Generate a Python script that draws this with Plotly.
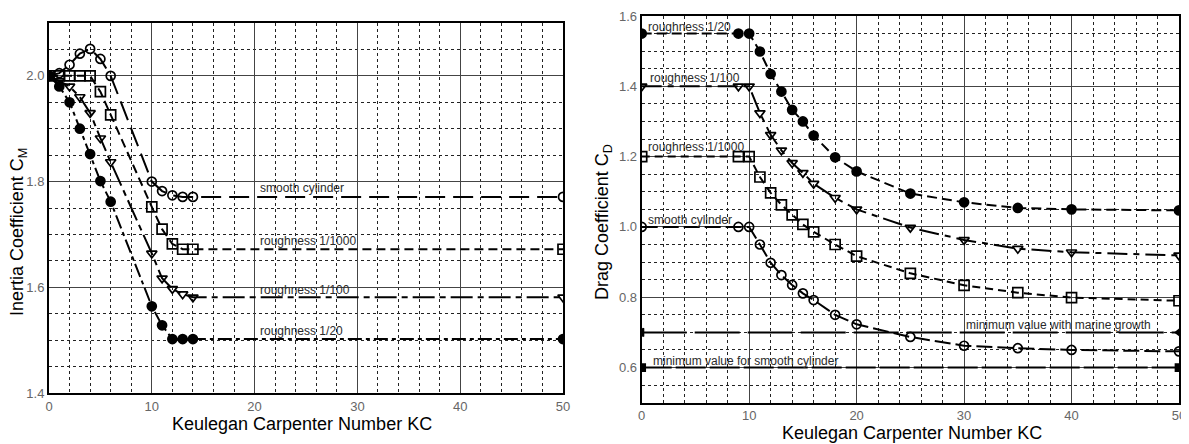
import plotly.graph_objects as go

# ---------------- Data: Inertia coefficient C_M (left) ----------------
kc_cm = [0, 1, 2, 3, 4, 5, 6, 10, 11, 12, 13, 14, 50]
cm_smooth = [2.0, 2.005, 2.021, 2.042, 2.051, 2.032, 2.0, 1.80, 1.782, 1.774, 1.771, 1.771, 1.771]
cm_r1000 = [2.0, 2.0, 2.0, 2.0, 2.0, 1.97, 1.926, 1.752, 1.71, 1.682, 1.672, 1.672, 1.672]
cm_r100 = [2.0, 1.99, 1.98, 1.96, 1.93, 1.882, 1.837, 1.664, 1.617, 1.597, 1.587, 1.581, 1.581]
cm_r20 = [2.0, 1.98, 1.95, 1.90, 1.852, 1.801, 1.762, 1.564, 1.528, 1.502, 1.502, 1.502, 1.502]

cm_labels = ["smooth cylinder", "roughness 1/1000", "roughness 1/100", "roughness 1/20"]
cm_label_y = [1.787, 1.687, 1.594, 1.518]
cm_label_x = 20.3

# ---------------- Data: Drag coefficient C_D (right) ----------------
kc_cd = [0, 9, 10, 11, 12, 13, 14, 15, 16, 18, 20, 25, 30, 35, 40, 50]
cd_r20 = [1.55, 1.55, 1.55, 1.499, 1.435, 1.385, 1.333, 1.30, 1.26, 1.198, 1.158, 1.095, 1.070, 1.054, 1.050, 1.047]
cd_r100 = [1.40, 1.40, 1.40, 1.324, 1.262, 1.218, 1.182, 1.154, 1.123, 1.083, 1.050, 0.998, 0.963, 0.938, 0.928, 0.919]
cd_r1000 = [1.20, 1.20, 1.20, 1.142, 1.097, 1.063, 1.034, 1.007, 0.986, 0.950, 0.917, 0.868, 0.834, 0.813, 0.799, 0.790]
cd_smooth = [1.00, 1.00, 1.00, 0.950, 0.898, 0.863, 0.835, 0.811, 0.792, 0.750, 0.723, 0.687, 0.662, 0.655, 0.650, 0.646]

kc_limits = [0, 50]
cd_min_marine = [0.70, 0.70]
cd_min_smooth = [0.60, 0.60]

cd_labels = ["roughness 1/20", "roughness 1/100", "roughness 1/1000", "smooth cylinder",
             "minimum value for smooth cylinder", "minimum value with marine growth"]
cd_label_x = [0.4, 0.6, 0.4, 0.4, 0.9, 30.0]
cd_label_y = [1.570, 1.423, 1.226, 1.021, 0.619, 0.721]

x_ticks = [0, 10, 20, 30, 40, 50]

# ---------------- Layout helpers ----------------
# The page body adds an 8px offset, so reference pixel p maps to figure pixel p - 8.
W, H = 1181, 436
OFF = 8
def px_x(p):
    return (p - OFF) / W
def px_y(p):
    return (H - (p - OFF)) / H

FONT = "Arial, Liberation Sans, sans-serif"
BLACK = "#000000"

fig = go.Figure()

def add_series(x, y, xa, ya, symbol, dash, size=9):
    fig.add_trace(go.Scatter(
        x=x, y=y, xaxis=xa, yaxis=ya, mode="lines+markers",
        line=dict(color=BLACK, width=2, dash=dash),
        marker=dict(symbol=symbol, size=size, color=BLACK,
                    line=dict(color=BLACK, width=1.7)),
        showlegend=False, hoverinfo="x+y"))

# left
add_series(kc_cm, cm_smooth, "x", "y", "circle-open", "20px,8px")
add_series(kc_cm, cm_r1000, "x", "y", "square-open", "9px,5px", 10)
add_series(kc_cm, cm_r100, "x", "y", "triangle-down-open", "22px,5px,6px,5px")
add_series(kc_cm, cm_r20, "x", "y", "circle", "14px,4px,4px,4px")

# right
add_series(kc_cd, cd_r20, "x2", "y2", "circle", "10px,5px")
add_series(kc_cd, cd_r100, "x2", "y2", "triangle-down-open", "20px,6px,6px,6px")
add_series(kc_cd, cd_r1000, "x2", "y2", "square-open", "8px,5px", 10)
add_series(kc_cd, cd_smooth, "x2", "y2", "circle-open", "16px,5px")
add_series(kc_limits, cd_min_marine, "x2", "y2", "triangle-left", "45px,8px", 7)
add_series(kc_limits, cd_min_smooth, "x2", "y2", "square", "30px,4px", 7)

def axis_common(rng, dtick, minor_dtick, tick0, minor_tick0, domain, anchor, fmt=None, tickvals=None):
    d = dict(
        range=rng, domain=domain, anchor=anchor, automargin=False,
        showline=True, linecolor=BLACK, linewidth=2, mirror=True,
        showgrid=True, gridcolor="#444444", gridwidth=1,
        zeroline=False, ticks="",
        tickfont=dict(family=FONT, size=13, color="#666666"),
        minor=dict(dtick=minor_dtick, tick0=minor_tick0, showgrid=True,
                   gridcolor="#222222", gridwidth=1, griddash="3px,3px", ticks=""),
        fixedrange=True,
    )
    if tickvals is not None:
        d.update(tickmode="array", tickvals=tickvals)
    else:
        d.update(dtick=dtick, tick0=tick0)
    if fmt:
        d["tickformat"] = fmt
    return d

fig.update_layout(
    width=W, height=H,
    margin=dict(l=0, r=0, t=0, b=0, pad=0, autoexpand=False),
    paper_bgcolor="white", plot_bgcolor="white",
    font=dict(family=FONT),
    xaxis=axis_common([0, 50], 10, 2, 0, 0, [px_x(49), px_x(563)], "y", tickvals=x_ticks),
    yaxis=axis_common([1.4, 2.1], 0.2, 0.05, 1.4, 1.4, [px_y(393), px_y(23)], "x", fmt=".1f"),
    xaxis2=axis_common([0, 50], 10, 2, 0, 0, [px_x(641.7), px_x(1179)], "y2", tickvals=x_ticks),
    yaxis2=axis_common([0.5, 1.6], 0.2, 0.05, 0.6, 0.5, [px_y(402.7), px_y(16)], "x2", fmt=".1f"),
)

label_font = dict(family=FONT, size=12, color="#2a2a2a")
annotations = []
for t, yv in zip(cm_labels, cm_label_y):
    annotations.append(dict(x=cm_label_x, y=yv, xref="x", yref="y", text=t, showarrow=False,
                            xanchor="left", yanchor="middle", font=label_font))
for t, xv, yv in zip(cd_labels, cd_label_x, cd_label_y):
    annotations.append(dict(x=xv, y=yv, xref="x2", yref="y2", text=t, showarrow=False,
                            xanchor="left", yanchor="middle", font=label_font))

title_font = dict(family=FONT, size=18, color=BLACK)
annotations += [
    dict(x=px_x(302), y=px_y(424), xref="paper", yref="paper", showarrow=False,
         text="Keulegan Carpenter Number KC", font=title_font, xanchor="center", yanchor="middle"),
    dict(x=px_x(912), y=px_y(433), xref="paper", yref="paper", showarrow=False,
         text="Keulegan Carpenter Number KC", font=title_font, xanchor="center", yanchor="middle"),
    dict(x=px_x(18), y=px_y(232), xref="paper", yref="paper", showarrow=False, textangle=-90,
         text="Inertia Coefficient C<sub>M</sub>", font=title_font, xanchor="center", yanchor="middle"),
    dict(x=px_x(603), y=px_y(222), xref="paper", yref="paper", showarrow=False, textangle=-90,
         text="Drag Coefficient C<sub>D</sub>", font=title_font, xanchor="center", yanchor="middle"),
]
fig.update_layout(annotations=annotations)

fig.write_html("out.html")
